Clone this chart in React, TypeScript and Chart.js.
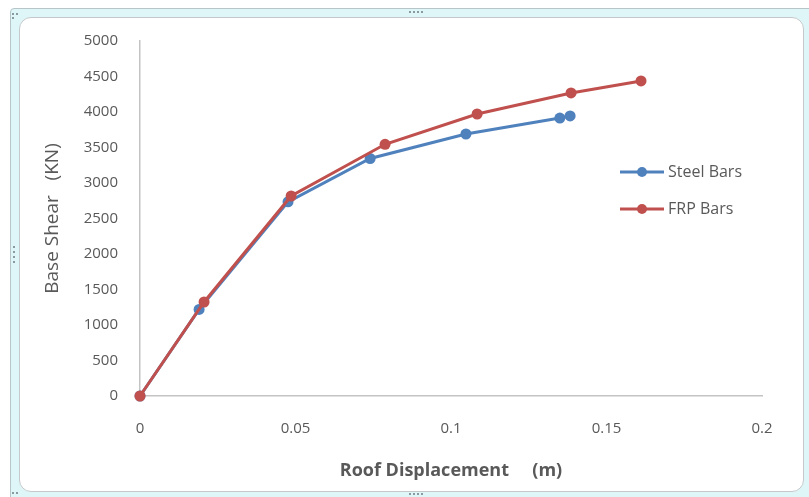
import React, { useEffect, useRef } from "react";
import { Chart, registerables } from "chart.js";

Chart.register(...registerables);

const steelX = [0, 0.019, 0.0476, 0.074, 0.1048, 0.135, 0.1383];
const steelY = [0, 1220, 2735, 3345, 3690, 3915, 3945];
const frpX = [0, 0.0206, 0.0486, 0.0788, 0.1084, 0.1386, 0.1611];
const frpY = [0, 1324, 2817, 3545, 3972, 4268, 4437];

const seriesNames = ["Steel Bars", "FRP Bars"];
const seriesColors = ["#4f81bd", "#c0504d"];
const xTitle = "Roof Displacement     (m)";
const yTitle = "Base Shear   (KN)";

const FONT = "'Open Sans', 'Noto Sans', sans-serif";
const TEXT = "#595959";

const legendPlugin = {
  id: "customLegend",
  afterDraw(chart: any) {
    const ctx = chart.ctx;
    const ys = [172, 209];
    ctx.save();
    seriesNames.forEach((name, i) => {
      const y = ys[i];
      ctx.strokeStyle = seriesColors[i];
      ctx.lineWidth = 3;
      ctx.beginPath();
      ctx.moveTo(620, y);
      ctx.lineTo(664, y);
      ctx.stroke();
      ctx.fillStyle = seriesColors[i];
      ctx.beginPath();
      ctx.arc(642, y, 5, 0, Math.PI * 2);
      ctx.fill();
      ctx.fillStyle = TEXT;
      ctx.font = `16px ${FONT}`;
      ctx.textAlign = "left";
      ctx.textBaseline = "middle";
      ctx.fillText(name, 668, y);
    });
    ctx.restore();
  },
};

function App() {
  const ref = useRef<HTMLCanvasElement | null>(null);
  useEffect(() => {
    if (!ref.current) return;
    const chart = new Chart(ref.current, {
      type: "line",
      data: {
        datasets: [
          {
            label: seriesNames[0],
            data: steelX.map((x, i) => ({ x, y: steelY[i] })),
            borderColor: seriesColors[0],
            backgroundColor: seriesColors[0],
            borderWidth: 3,
            pointRadius: 5.5,
            pointHoverRadius: 5.5,
            pointBorderWidth: 0,
            tension: 0,
            clip: false,
            order: 1,
          },
          {
            label: seriesNames[1],
            data: frpX.map((x, i) => ({ x, y: frpY[i] })),
            borderColor: seriesColors[1],
            backgroundColor: seriesColors[1],
            borderWidth: 3,
            pointRadius: 5.5,
            pointHoverRadius: 5.5,
            pointBorderWidth: 0,
            tension: 0,
            clip: false,
            order: 0,
          },
        ],
      },
      options: {
        responsive: false,
        animation: false,
        layout: { padding: { left: 0, top: 41, right: 47, bottom: 0 } },
        plugins: {
          legend: { display: false },
          tooltip: { enabled: false },
        },
        scales: {
          x: {
            type: "linear",
            min: 0,
            max: 0.2,
            grid: { display: false, drawTicks: false },
            border: { display: true, color: "#c4c4c4", width: 1.5 },
            ticks: {
              stepSize: 0.05,
              padding: 24,
              color: TEXT,
              font: { family: FONT, size: 15 },
              callback: (v: any) => String(Number(Number(v).toFixed(2))),
            },
            title: {
              display: true,
              text: xTitle,
              color: TEXT,
              font: { family: FONT, size: 18, weight: "bold" },
              padding: { top: 0, bottom: 15 },
            },
            afterFit: (s: any) => {
              s.height = 101;
            },
          },
          y: {
            type: "linear",
            min: 0,
            max: 5000,
            grid: { display: false, drawTicks: false },
            border: { display: true, color: "#c4c4c4", width: 1.5 },
            ticks: {
              stepSize: 500,
              padding: 22,
              color: TEXT,
              font: { family: FONT, size: 15 },
              callback: (v: any) => String(v),
            },
            title: {
              display: true,
              text: yTitle,
              color: TEXT,
              font: { family: FONT, size: 19 },
              padding: { top: 41, bottom: 0 },
            },
            afterFit: (s: any) => {
              s.width = 140;
            },
          },
        },
      },
      plugins: [legendPlugin],
    });
    return () => chart.destroy();
  }, []);

  const dot = (left: number, top: number) => (
    <div
      key={`${left}-${top}`}
      style={{ position: "absolute", left, top, width: 2, height: 2, background: "#8a9aa0" }}
    />
  );
  const dots: any[] = [];
  for (let i = 0; i < 4; i++) dots.push(dot(409 + i * 4, 11));
  for (let i = 0; i < 4; i++) dots.push(dot(409 + i * 4, 493));
  for (let i = 0; i < 4; i++) dots.push(dot(13, 246 + i * 5));
  dots.push(dot(12, 13), dot(16, 13), dot(12, 17));
  dots.push(dot(12, 492), dot(16, 492));

  return (
    <div style={{ position: "absolute", left: 0, top: 0, width: 809, height: 497, overflow: "hidden", background: "#ffffff" }}>
      <div
        style={{
          position: "absolute",
          left: 10,
          top: 8,
          width: 820,
          height: 510,
          background: "#dff6f8",
          border: "1px solid #b7c5c9",
          borderRadius: 4,
          boxSizing: "border-box",
        }}
      />
      <div
        style={{
          position: "absolute",
          left: 19,
          top: 17,
          width: 785,
          height: 475,
          background: "#ffffff",
          border: "1px solid #c6c9cb",
          borderRadius: 12,
          boxSizing: "border-box",
        }}
      />
      {dots}
      <canvas
        ref={ref}
        width={809}
        height={497}
        style={{ position: "absolute", left: 0, top: 0, width: 809, height: 497 }}
      />
    </div>
  );
}

export default App;
